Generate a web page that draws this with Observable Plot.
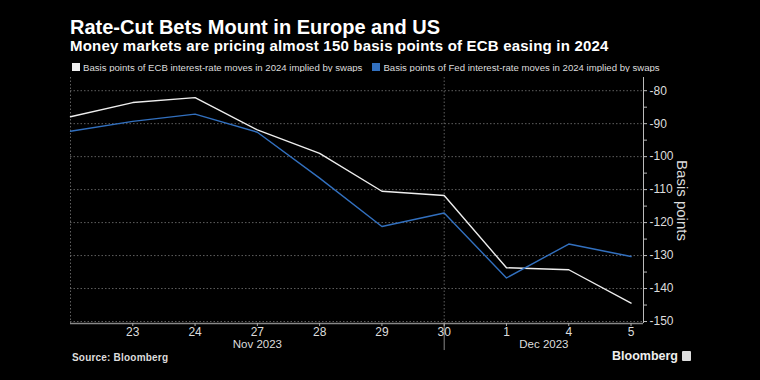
<!DOCTYPE html>
<html>
<head>
<meta charset="utf-8">
<script src="https://cdn.jsdelivr.net/npm/d3@7"></script>
<script src="https://cdn.jsdelivr.net/npm/@observablehq/plot@0.6"></script>
<style>
  html, body { margin: 0; padding: 0; background: #000; }
  #wrap { position: relative; width: 760px; height: 380px; background: #000; overflow: hidden; font-family: "Liberation Sans", sans-serif; }
  #title { position: absolute; left: 70px; top: 16px; color: #fff; font-weight: bold; font-size: 20px; letter-spacing: 0px; white-space: nowrap; }
  #subtitle { position: absolute; left: 70px; top: 37px; color: #fff; font-weight: bold; font-size: 15px; letter-spacing: 0.2px; white-space: nowrap; }
  #legend { position: absolute; left: 72px; top: 62px; color: #ddd; font-family: "Liberation Sans", sans-serif; font-size: 9.6px; white-space: nowrap; }
  #legend span.sw { display: inline-block; width: 8px; height: 8px; margin-right: 3px; vertical-align: -0px; }
  #legend span.item { margin-right: 10px; }
  #chart { position: absolute; left: 0; top: 72px; }
  #source { position: absolute; left: 72px; top: 352px; color: #ddd; font-weight: bold; font-size: 10px; letter-spacing: 0.2px; }
  #logo { position: absolute; left: 612px; top: 349px; color: #eee; font-family: "Liberation Sans", sans-serif; font-weight: bold; font-size: 12.5px; }
  #logo span.ic { display: inline-block; width: 9px; height: 10px; background: #ddd; border-radius: 1px; margin-left: 4px; vertical-align: -1px; }
</style>
</head>
<body>
<div id="wrap">
  <div id="title">Rate-Cut Bets Mount in Europe and US</div>
  <div id="subtitle">Money markets are pricing almost 150 basis points of ECB easing in 2024</div>
  <div id="legend"></div>
  <div id="chart"></div>
  <div id="source">Source: Bloomberg</div>
  <div id="logo">Bloomberg<span class="ic"></span></div>
</div>
<script>
// ---- data ----
const dates = ["2023-11-22","2023-11-23","2023-11-24","2023-11-27","2023-11-28","2023-11-29","2023-11-30","2023-12-01","2023-12-04","2023-12-05"];
const dayLabels = ["22","23","24","27","28","29","30","1","4","5"];
const ecb = [-87.9, -83.6, -82.1, -91.9, -99.0, -110.5, -111.8, -133.7, -134.3, -144.4];
const fed = [-92.3, -89.3, -87.1, -92.6, -106.5, -121.2, -117.1, -136.8, -126.5, -130.3];
const seriesNames = [
  "Basis points of ECB interest-rate moves in 2024 implied by swaps",
  "Basis points of Fed interest-rate moves in 2024 implied by swaps"
];
const seriesColors = ["#eeeeee", "#3270bf"];
const monthLabels = ["Nov 2023", "Dec 2023"];
const yTicks = [-80, -90, -100, -110, -120, -130, -140, -150];
const yLabel = "Basis points";

// ---- legend ----
const legend = document.getElementById("legend");
seriesNames.forEach((n, i) => {
  const it = document.createElement("span");
  it.className = "item";
  it.innerHTML = `<span class="sw" style="background:${seriesColors[i]}"></span>${n}`;
  legend.appendChild(it);
});

// ---- table ----
const rows = [];
dates.forEach((d, i) => {
  rows.push({i, v: ecb[i], s: seriesNames[0]});
  rows.push({i, v: fed[i], s: seriesNames[1]});
});

const xMax = dates.length - 1 + 0.2;
const yMin = -150.6, yMax = -76;
const lastNov = dates.findIndex(d => d.startsWith("2023-12")) - 1;
const monthCenters = [lastNov / 2, (lastNov + xMax) / 2];
const minorTicks = d3.range(-80, -151, -5).filter(v => v % 10 !== 0);

const chart = Plot.plot({
  width: 760,
  height: 285,
  marginLeft: 70,
  marginRight: 117,
  marginTop: 5,
  marginBottom: 34,
  style: {background: "#000", color: "#ccc", fontFamily: "Liberation Sans, sans-serif", fontSize: "12px"},
  x: {type: "linear", domain: [0, xMax]},
  y: {domain: [yMin, yMax]},
  color: {domain: seriesNames, range: seriesColors},
  marks: [
    Plot.gridY(yTicks, {stroke: "#777", strokeOpacity: 1, strokeDasharray: "1.5,2", strokeWidth: 0.8}),
    Plot.ruleX([0], {stroke: "#777", strokeDasharray: "1.5,2", strokeWidth: 0.8}),
    Plot.ruleX([lastNov], {y1: yMax, y2: yMin, stroke: "#777", strokeDasharray: "1.5,2", strokeWidth: 0.8}),
    Plot.ruleX([lastNov], {y1: yMin, y2: yMin - 8.2, stroke: "#888", strokeWidth: 1}),
    Plot.ruleY([yMin], {stroke: "#888", strokeWidth: 1.6}),
    Plot.ruleX([xMax], {stroke: "#bbb", strokeWidth: 1}),
    Plot.axisY(yTicks, {anchor: "right", tickSize: 3, tickPadding: 3, tickFormat: d => "-" + Math.abs(d), label: null, fill: "#ddd", stroke: "#bbb", textAnchor: "start"}),
    Plot.axisY(minorTicks, {anchor: "right", tickSize: 3, tickFormat: () => "", label: null, stroke: "#bbb"}),
    Plot.axisX(d3.range(1, dates.length), {anchor: "bottom", tickSize: 3, tickPadding: 1, tickFormat: i => dayLabels[i], label: null, fill: "#ddd", stroke: "#aaa"}),
    Plot.axisX(monthCenters, {anchor: "bottom", tickSize: 0, tickPadding: 16, tickFormat: (d, k) => monthLabels[k], label: null, fill: "#ddd", fontSize: 11.5}),
    Plot.line(rows, {x: "i", y: "v", z: "s", stroke: "s", strokeWidth: 1.4}),
    Plot.text([yLabel], {frameAnchor: "right", dx: 38, rotate: 90, textAnchor: "middle", fill: "#ddd", fontSize: 15, text: d => d})
  ]
});
document.getElementById("chart").appendChild(chart);
</script>
</body>
</html>
